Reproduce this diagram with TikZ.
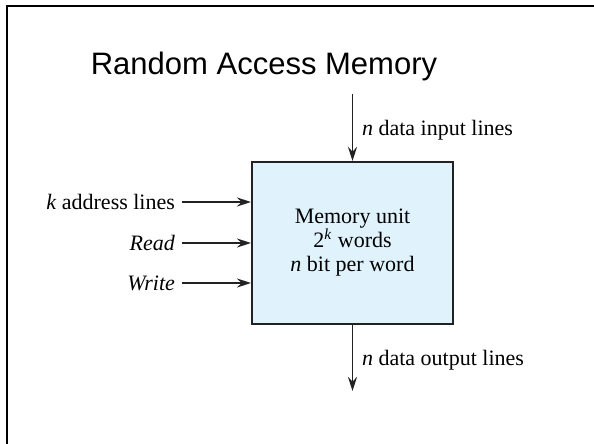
\documentclass[tikz,border=0pt]{standalone}
\usepackage{fontspec}
\setmainfont{Liberation Serif}
\newfontfamily\titlefont{Liberation Sans}
\usetikzlibrary{arrows.meta,calc}
\definecolor{memfill}{HTML}{E0F3FD}
\definecolor{linegray}{HTML}{222222}
\tikzset{
  sig/.style={draw=linegray,line width=.75pt,-{Stealth[length=7pt,width=4.5pt]}},
  lbl/.style={font=\fontsize{11}{12}\selectfont},
}
\begin{document}
\begin{tikzpicture}[x=.5pt,y=-.5pt]
\useasboundingbox(0,0) rectangle (594,444);
\draw[line width=1.2pt](7,444)--(7,6)--(594,6);
\node[font=\titlefont\fontsize{15.5}{18}\selectfont] (title) at(264,66){Random Access Memory};
\node[draw=linegray,line width=1pt,fill=memfill,minimum width=100.5pt,minimum height=81pt,
  align=center,lbl] (mem) at(352.5,243){Memory unit\\2\textsuperscript{\textit{k}} words\\\textit{n} bit per word};
% inputs on the left
\node[lbl,anchor=east] (addr) at(182,202){\textit{k} address lines};
\node[lbl,anchor=east] (rd) at(182,243){\textit{Read}};
\node[lbl,anchor=east] (wr) at(182,283){\textit{Write}};
\draw[sig](addr.east)--(addr.east-|mem.west);
\draw[sig](rd.east)--(rd.east-|mem.west);
\draw[sig](wr.east)--(wr.east-|mem.west);
% data lines
\coordinate (din) at(352.5,94);
\coordinate (dout) at(352.5,391);
\draw[sig](din)--(mem.north);
\draw[sig](mem.south)--(dout);
\node[lbl,anchor=west] (inl) at(355,130){\textit{n} data input lines};
\node[lbl,anchor=west] (outl) at(355,360){\textit{n} data output lines};
\end{tikzpicture}
\end{document}
